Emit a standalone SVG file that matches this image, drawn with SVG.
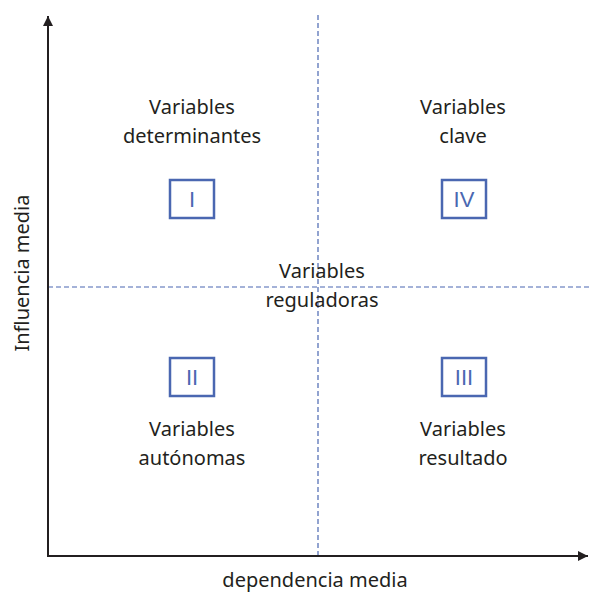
<svg xmlns="http://www.w3.org/2000/svg" width="589" height="594" viewBox="0 0 589 594">
<style>
text{font-family:"Noto Sans","Open Sans",sans-serif;font-size:20px;fill:#231f20;text-anchor:middle}
.box{fill:#fff;stroke:#4a67b1;stroke-width:2.5}
text.num{font-family:"Liberation Sans",Arial,sans-serif;fill:#4a67b1;font-size:22px}
.dash{stroke:#4a67b1;stroke-width:1.2;stroke-dasharray:5 3;fill:none}
.axis{stroke:#231f20;stroke-width:2;fill:none}
</style>
<defs>
<marker id="ah" markerWidth="10" markerHeight="10" refX="10" refY="5" orient="auto" markerUnits="userSpaceOnUse" viewBox="0 0 10 10">
<path d="M0,0 L10,5 L0,10 Z" fill="#231f20"/>
</marker>
</defs>
<g id="connectors">
<line class="dash" x1="318" y1="15" x2="318" y2="556"/>
<line class="dash" x1="48" y1="287" x2="589" y2="287"/>
<line class="axis" x1="48" y1="557" x2="48" y2="16" marker-end="url(#ah)"/>
<line class="axis" x1="47" y1="556" x2="588" y2="556" marker-end="url(#ah)"/>
</g>
<g id="axis-labels">
<text x="315" y="587">dependencia media</text>
<text transform="translate(29,273) rotate(-90)">Influencia media</text>
</g>
<g id="q1">
<text x="192" y="114">Variables</text>
<text x="192" y="143">determinantes</text>
<rect class="box" x="170" y="180" width="44" height="38"/>
<text class="num" x="192" y="207">I</text>
</g>
<g id="q4">
<text x="463" y="114">Variables</text>
<text x="463" y="143">clave</text>
<rect class="box" x="442" y="180" width="44" height="38"/>
<text class="num" x="464" y="207">IV</text>
</g>
<g id="center">
<text x="322" y="278">Variables</text>
<text x="322" y="307">reguladoras</text>
</g>
<g id="q2">
<rect class="box" x="170" y="358" width="44" height="38"/>
<text class="num" x="192" y="385">II</text>
<text x="192" y="436">Variables</text>
<text x="192" y="465">autónomas</text>
</g>
<g id="q3">
<rect class="box" x="442" y="358" width="44" height="38"/>
<text class="num" x="464" y="385">III</text>
<text x="463" y="436">Variables</text>
<text x="463" y="465">resultado</text>
</g>
</svg>
